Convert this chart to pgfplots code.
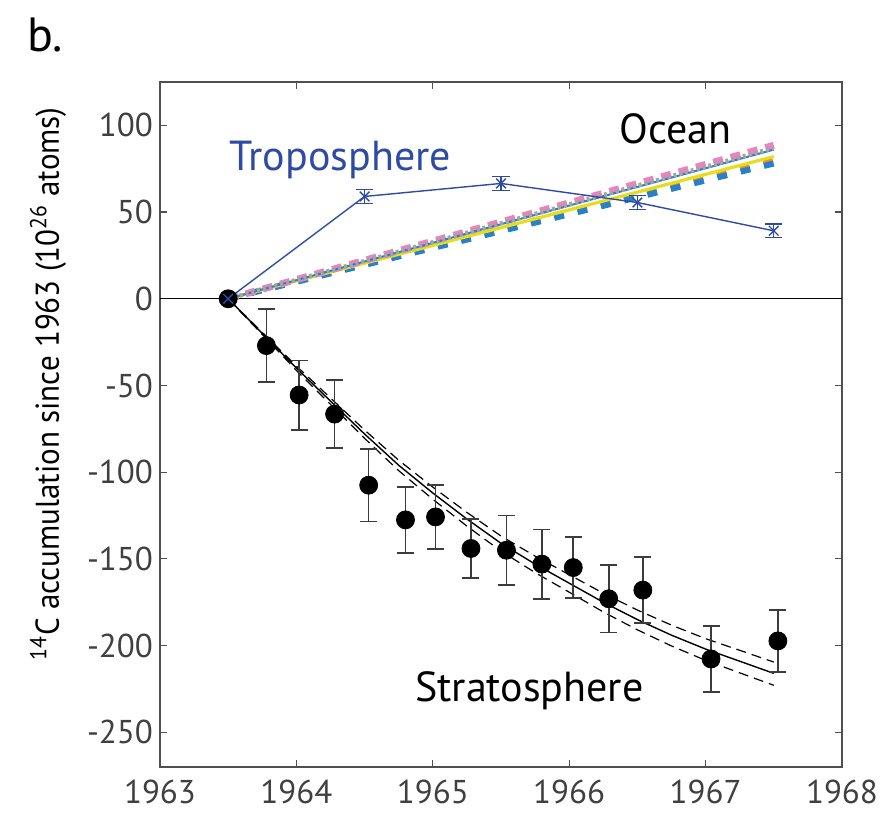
\documentclass[border=0pt]{standalone}
\usepackage{pgfplots}
\pgfplotsset{compat=1.18}
\usepackage{pgfplotstable}
\usepackage{fontspec}
\setmainfont{PT Sans}
\definecolor{tropo}{RGB}{45,75,165}
\definecolor{opink}{RGB}{236,130,190}
\definecolor{ogray}{RGB}{165,165,165}
\definecolor{oblue}{RGB}{40,128,198}
\definecolor{oorange}{RGB}{245,138,42}
\definecolor{oyellow}{RGB}{228,222,30}
\definecolor{errgray}{RGB}{60,60,60}
\definecolor{axgray}{RGB}{80,80,80}
\definecolor{lblgray}{RGB}{64,64,64}

\pgfplotstableread{
x y e
1963.78 -27 21
1964.02 -55.5 20
1964.28 -66.5 19.5
1964.53 -107.5 21
1964.80 -127.5 19
1965.02 -125.8 18.5
1965.28 -144 17
1965.54 -145 20
1965.80 -153 20
1966.03 -155 17.5
1966.29 -173 19.5
1966.54 -168 19
1967.04 -207.7 19
1967.53 -197.3 18
}\strato

\pgfplotstableread{
x mid up lo
1963.50 0 0 0
1963.75 -20 -19.4 -20.6
1964.00 -40 -38.8 -41.3
1964.25 -59 -57.2 -60.9
1964.50 -78 -75.7 -80.5
1964.75 -96 -93.1 -99.1
1965.00 -112 -108.6 -115.6
1965.25 -127 -123.2 -131.1
1965.50 -141 -136.8 -145.5
1965.75 -153 -148.4 -157.9
1966.00 -164 -159.1 -169.2
1966.25 -175 -169.8 -180.6
1966.50 -185 -179.5 -190.9
1966.75 -194 -188.2 -200.2
1967.00 -202 -196.0 -208.5
1967.25 -209 -202.7 -215.7
1967.50 -216 -209.5 -222.9
}\stratofit

\pgfplotstableread{
x y e
1963.50 0 0
1964.50 59 4
1965.50 66.5 4
1966.50 55.5 4
1967.50 39.2 4
}\tropo

\begin{document}
\begin{tikzpicture}
\useasboundingbox (-80pt,-26pt) rectangle (362.5pt,383.5pt);
\begin{axis}[name=ax, at={(0,0)}, anchor=south west,
  scale only axis, width=341pt, height=342.5pt,
  xmin=1963, xmax=1968, ymin=-270, ymax=125,
  xtick={1963,1964,1965,1966,1967,1968},
  xticklabels={1963,1964,1965,1966,1967,1968},
  ytick={-250,-200,-150,-100,-50,0,50,100},
  yticklabels={-250,-200,-150,-100,-50,0,50,100},
  tick align=inside, major tick length=3.5pt,
  axis line style={axgray, line width=0.6pt},
  tick style={axgray, line width=0.6pt},
  ticklabel style={text=lblgray, font=\fontsize{16.5}{19}\selectfont},
  xticklabel style={yshift=-3pt},
  clip=false]
% zero line
\addplot[black, line width=0.6pt] coordinates {(1963,0) (1968,0)};
% ocean
\addplot[oorange, line width=3pt, dash pattern=on 5pt off 7pt] coordinates {(1963.5,0) (1967.5,80.5)};
\addplot[oblue, line width=3pt, dash pattern=on 5pt off 7pt] coordinates {(1963.5,0) (1967.5,78)};
\addplot[oyellow, line width=1.6pt] coordinates {(1963.5,0) (1967.5,82)};
\addplot[opink, line width=3.5pt, dash pattern=on 5pt off 4pt] coordinates {(1963.5,0) (1967.5,88.5)};
\addplot[oblue, line width=1pt] coordinates {(1963.5,0) (1967.5,86)};
\addplot[ogray, line width=2.2pt, dash pattern=on 1.5pt off 1.5pt] coordinates {(1963.5,0) (1967.5,87)};
% stratosphere fits
\addplot[black, line width=0.7pt] table[x=x,y=mid] {\stratofit};
\addplot[black, line width=0.6pt, dash pattern=on 5pt off 3pt] table[x=x,y=up] {\stratofit};
\addplot[black, line width=0.6pt, dash pattern=on 5pt off 3pt] table[x=x,y=lo] {\stratofit};
% stratosphere error bars and points
\addplot[draw=none, mark=none, error bars/.cd, y dir=both, y explicit,
  error bar style={color=errgray, line width=0.8pt},
  error mark options={rotate=90, mark size=4.25pt, line width=0.8pt, color=errgray}]
  table[x=x, y=y, y error=e] {\strato};
\addplot[only marks, mark=*, mark size=4.5pt, black] table[x=x,y=y] {\strato};
\addplot[only marks, mark=*, mark size=4.5pt, black] coordinates {(1963.5,0)};
% troposphere
\addplot[tropo, line width=0.7pt, mark=x, mark size=3.4pt, mark options={line width=0.7pt}] table[x=x,y=y] {\tropo};
\addplot[draw=none, mark=none, error bars/.cd, y dir=both, y explicit,
  error bar style={color=tropo, line width=0.7pt},
  error mark options={rotate=90, mark size=4.3pt, line width=0.7pt, color=tropo}]
  table[x=x, y=y, y error=e, skip first n=1] {\tropo};
% labels
\node[anchor=base west, text=tropo, font=\fontsize{21}{25}\selectfont] at (axis cs:1963.46,74) {Troposphere};
\node[anchor=base west, font=\fontsize{21}{25}\selectfont] at (axis cs:1966.32,89.3) {Ocean};
\node[anchor=base west, font=\fontsize{21}{25}\selectfont] at (axis cs:1964.82,-232) {Stratosphere};
\end{axis}
\node[anchor=base west, font=\fontsize{24}{28}\selectfont] at ([shift={(-70pt,15pt)}]ax.north west) {b.};
\node[rotate=90, anchor=base, font=\fontsize{16.5}{19}\selectfont] at ([xshift=-50.5pt, yshift=191.5pt]ax.south west) {\scalebox{0.94}[1]{\textsuperscript{14}C accumulation since 1963 (10\textsuperscript{26} atoms)}};
\end{tikzpicture}
\end{document}
